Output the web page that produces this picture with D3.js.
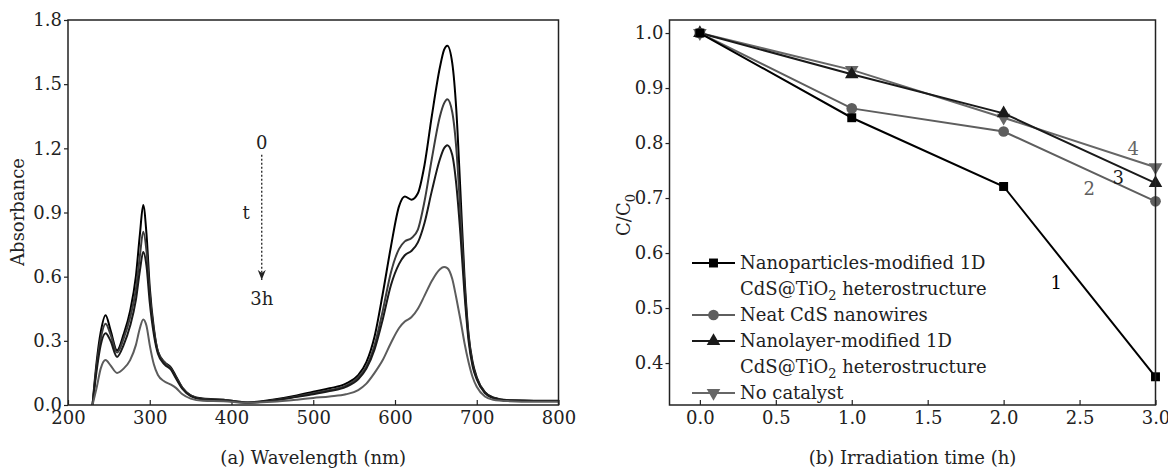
<!DOCTYPE html>
<html>
<head>
<meta charset="utf-8">
<script src="https://cdn.jsdelivr.net/npm/d3@7"></script>
<style>
  body { margin: 0; background: #fff; }
  svg, svg text { font-family: "DejaVu Serif", "Liberation Serif", serif; }
  .tick text { font-size: 18px; fill: #222; }
</style>
</head>
<body>
<div id="chart"></div>
<script>
// ---- panel (a): absorption spectra ----
var wavelength = [230, 235, 240, 246, 252, 260, 268, 276, 283, 288, 292, 296, 300, 305, 310, 318, 326, 332, 340, 350,
    365, 390, 420, 450, 480, 500, 520, 540, 555, 565, 575, 585, 595, 605, 612, 620, 628, 636, 645, 655,
    660, 664, 670, 675, 680, 685, 690, 695, 700, 710, 720, 740, 770, 800];

var abs0h = [0, 0.2, 0.34, 0.42, 0.35, 0.255, 0.33, 0.44, 0.6, 0.8, 0.935, 0.8, 0.55, 0.36, 0.25, 0.2, 0.175, 0.135, 0.08, 0.045,
    0.03, 0.025, 0.012, 0.025, 0.045, 0.062, 0.078, 0.1, 0.14, 0.2, 0.32, 0.52, 0.74, 0.93, 0.975, 0.96, 0.99, 1.12, 1.35, 1.58,
    1.66, 1.68, 1.6, 1.38, 1.0, 0.6, 0.33, 0.2, 0.13, 0.06, 0.035, 0.022, 0.02, 0.02];
var abs1h = [0, 0.18, 0.31, 0.38, 0.33, 0.245, 0.31, 0.41, 0.54, 0.7, 0.81, 0.72, 0.52, 0.35, 0.25, 0.2, 0.17, 0.13, 0.08, 0.045,
    0.028, 0.024, 0.012, 0.022, 0.04, 0.055, 0.07, 0.09, 0.13, 0.18, 0.28, 0.44, 0.62, 0.73, 0.765, 0.78, 0.82, 0.95, 1.15, 1.35,
    1.41, 1.43, 1.37, 1.2, 0.9, 0.56, 0.32, 0.19, 0.125, 0.058, 0.034, 0.021, 0.019, 0.019];
var abs2h = [0, 0.16, 0.28, 0.335, 0.3, 0.225, 0.28, 0.37, 0.49, 0.63, 0.715, 0.65, 0.48, 0.33, 0.24, 0.19, 0.165, 0.125, 0.075, 0.042,
    0.026, 0.022, 0.011, 0.02, 0.038, 0.05, 0.065, 0.085, 0.12, 0.17, 0.26, 0.4, 0.56, 0.66, 0.7, 0.72, 0.76, 0.85, 1.0, 1.15,
    1.2, 1.215, 1.17, 1.03, 0.8, 0.52, 0.3, 0.18, 0.12, 0.056, 0.033, 0.021, 0.019, 0.019];
var abs3h = [0, 0.08, 0.17, 0.21, 0.185, 0.15, 0.17, 0.21, 0.28, 0.36, 0.4, 0.37, 0.28, 0.19, 0.14, 0.11, 0.095, 0.08, 0.05, 0.03,
    0.02, 0.018, 0.01, 0.015, 0.025, 0.033, 0.04, 0.05, 0.07, 0.1, 0.15, 0.21, 0.29, 0.36, 0.39, 0.41, 0.45, 0.51, 0.58, 0.635,
    0.645, 0.64, 0.59, 0.5, 0.4, 0.29, 0.2, 0.13, 0.085, 0.04, 0.025, 0.018, 0.015, 0.015];
var spectraColors = ["#000000", "#3c3c3c", "#1a1a1a", "#5c5c5c"];
var absTicks = [0, 0.3, 0.6, 0.9, 1.2, 1.5, 1.8];
var wlTicks = [200, 300, 400, 500, 600, 700, 800];

// ---- panel (b): C/C0 vs irradiation time ----
var timeH = [0, 1, 2, 3];
var ratioNanoparticles = [1.0, 0.846, 0.721, 0.375];
var ratioNeatCdS = [1.0, 0.863, 0.821, 0.694];
var ratioNanolayer = [1.0, 0.925, 0.854, 0.727];
var ratioNoCatalyst = [1.0, 0.933, 0.846, 0.756];
var seriesNames = [["Nanoparticles-modified 1D", "CdS@TiO2 heterostructure"], ["Neat CdS nanowires"],
    ["Nanolayer-modified 1D", "CdS@TiO2 heterostructure"], ["No catalyst"]];
var seriesColors = ["#000000", "#5e5e5e", "#1a1a1a", "#666666"];
var seriesSymbols = [d3.symbolSquare, d3.symbolCircle, d3.symbolTriangle, d3.symbolTriangle];
var timeTicks = [0, 0.5, 1, 1.5, 2, 2.5, 3];
var ratioTicks = [0.4, 0.5, 0.6, 0.7, 0.8, 0.9, 1.0];
var curveLabels = ["1", "2", "3", "4"];
var curveLabelPos = [[2.347, 0.546], [2.564, 0.718], [2.755, 0.738], [2.853, 0.79]];

var width = 1168, height = 470, fs = "18px";
var svg = d3.select("#chart").append("svg").attr("width", width).attr("height", height);

function textWithSub(sel, str) {
    // "TiO2" / trailing "C0" get a subscript digit
    var parts = str.split(/(TiO2|C0$)/);
    var shiftBack = 0;
    parts.forEach(function (p) {
        if (!p.length) return;
        if (p === "TiO2" || p === "C0") {
            sel.append("tspan").attr("dy", shiftBack ? -shiftBack : null).text(p.slice(0, -1));
            sel.append("tspan").attr("font-size", "13px").attr("dy", 5).text(p.slice(-1));
            shiftBack = 5;
        } else {
            sel.append("tspan").attr("dy", shiftBack ? -shiftBack : null).text(p);
            shiftBack = 0;
        }
    });
}

function drawFrame(g, x, y) {
    g.append("rect")
        .attr("x", x.range()[0]).attr("y", y.range()[1])
        .attr("width", x.range()[1] - x.range()[0])
        .attr("height", y.range()[0] - y.range()[1])
        .attr("fill", "none").attr("stroke", "#222").attr("stroke-width", 1.5);
}

function styleAxis(a) {
    a.attr("font-family", null).attr("font-size", null);
    a.select(".domain").remove();
    a.selectAll(".tick line").attr("stroke", "#222").attr("stroke-width", 1.2);
}

// ===== panel (a) =====
var xa = d3.scaleLinear().domain([200, 800]).range([68, 558.5]);
var ya = d3.scaleLinear().domain([0, 1.8]).range([405, 20]);
var ga = svg.append("g");

ga.append("g").attr("transform", "translate(0,405)")
    .call(d3.axisBottom(xa).tickValues(wlTicks).tickSizeInner(-5).tickSizeOuter(0).tickPadding(6).tickFormat(d3.format("d")))
    .call(styleAxis);
ga.append("g").attr("transform", "translate(68,0)")
    .call(d3.axisLeft(ya).tickValues(absTicks).tickSize(4).tickPadding(2).tickFormat(d3.format(".1f")))
    .call(styleAxis);

svg.append("clipPath").attr("id", "clipA").append("rect")
    .attr("x", 68).attr("y", 20).attr("width", 490.5).attr("height", 385);

var lineA = d3.line().curve(d3.curveMonotoneX)
    .x(function (d) { return xa(d[0]); })
    .y(function (d) { return ya(d[1]); });
[abs0h, abs1h, abs2h, abs3h].forEach(function (arr, i) {
    ga.append("path")
        .datum(wavelength.map(function (w, j) { return [w, arr[j]]; }))
        .attr("clip-path", "url(#clipA)")
        .attr("fill", "none").attr("stroke", spectraColors[i]).attr("stroke-width", 2)
        .attr("d", lineA);
});
drawFrame(ga, xa, ya);

// time arrow annotation
var defs = svg.append("defs");
defs.append("marker").attr("id", "arrowHead").attr("viewBox", "0 0 10 10")
    .attr("refX", 10).attr("refY", 5).attr("markerWidth", 10).attr("markerHeight", 10)
    .attr("markerUnits", "userSpaceOnUse").attr("orient", "auto")
    .append("path").attr("d", "M0,1 L10,5 L0,9 L3,5 Z").attr("fill", "#222");
ga.append("line")
    .attr("x1", xa(437)).attr("x2", xa(437))
    .attr("y1", ya(1.17)).attr("y2", ya(0.585))
    .attr("stroke", "#222").attr("stroke-width", 1.3).attr("stroke-dasharray", "2,2")
    .attr("marker-end", "url(#arrowHead)");
[["0", 437, 1.225], ["t", 418, 0.9], ["3h", 437, 0.5]].forEach(function (a) {
    ga.append("text").attr("x", xa(a[1])).attr("y", ya(a[2]))
        .attr("text-anchor", "middle").attr("dominant-baseline", "central")
        .attr("font-size", fs).attr("fill", "#222").text(a[0]);
});

ga.append("text").attr("x", (68 + 558.5) / 2).attr("y", 464)
    .attr("text-anchor", "middle").attr("font-size", fs).attr("fill", "#222")
    .text("(a) Wavelength (nm)");
ga.append("text").attr("transform", "translate(24,212) rotate(-90)")
    .attr("text-anchor", "middle").attr("font-size", fs).attr("fill", "#222")
    .text("Absorbance");

// ===== panel (b) =====
var xb = d3.scaleLinear().domain([-0.2, 3.0]).range([669.5, 1155.5]);
var yb = d3.scaleLinear().domain([0.3237, 1.0237]).range([405, 20]);
var gb = svg.append("g");

gb.append("g").attr("transform", "translate(0,405)")
    .call(d3.axisBottom(xb).tickValues(timeTicks).tickSizeInner(-5).tickSizeOuter(0).tickPadding(6).tickFormat(d3.format(".1f")))
    .call(styleAxis);
gb.append("g").attr("transform", "translate(669.5,0)")
    .call(d3.axisLeft(yb).tickValues(ratioTicks).tickSize(4).tickPadding(2).tickFormat(d3.format(".1f")))
    .call(styleAxis);

var seriesData = [ratioNanoparticles, ratioNeatCdS, ratioNanolayer, ratioNoCatalyst];
var lineB = d3.line().x(function (d) { return xb(d[0]); }).y(function (d) { return yb(d[1]); });

function addMarker(g, i, cx, cy) {
    var rot = (i === 3) ? 180 : 0;
    g.append("path").attr("d", d3.symbol().type(seriesSymbols[i]).size(i === 1 ? 90 : 80)())
        .attr("transform", "translate(" + cx + "," + cy + ") rotate(" + rot + ")")
        .attr("fill", seriesColors[i]);
}

// draw in reverse so series 1 sits on top at t=0
[3, 2, 1, 0].forEach(function (i) {
    var pts = timeH.map(function (t, j) { return [t, seriesData[i][j]]; });
    gb.append("path").datum(pts)
        .attr("fill", "none").attr("stroke", seriesColors[i]).attr("stroke-width", 2)
        .attr("d", lineB);
    pts.forEach(function (p) { addMarker(gb, i, xb(p[0]), yb(p[1])); });
});

curveLabels.forEach(function (lab, i) {
    gb.append("text").attr("x", xb(curveLabelPos[i][0])).attr("y", yb(curveLabelPos[i][1]))
        .attr("text-anchor", "middle").attr("dominant-baseline", "central")
        .attr("font-size", fs).attr("fill", seriesColors[i]).text(lab);
});

// legend
var legX = 692, legLine = 43, lineStep = 26, legY = 263;
var row = 0;
seriesNames.forEach(function (lines, i) {
    var cy = legY + row * lineStep;
    gb.append("line").attr("x1", legX).attr("x2", legX + legLine).attr("y1", cy).attr("y2", cy)
        .attr("stroke", seriesColors[i]).attr("stroke-width", 2);
    addMarker(gb, i, legX + legLine / 2, cy);
    lines.forEach(function (txt, k) {
        var t = gb.append("text").attr("x", legX + legLine + 5).attr("y", legY + (row + k) * lineStep + 6)
            .attr("font-size", fs).attr("fill", "#222");
        textWithSub(t, txt);
    });
    row += lines.length;
});

drawFrame(gb, xb, yb);

gb.append("text").attr("x", (669.5 + 1155.5) / 2).attr("y", 464)
    .attr("text-anchor", "middle").attr("font-size", fs).attr("fill", "#222")
    .text("(b) Irradiation time (h)");
var yl = gb.append("text").attr("transform", "translate(630,215) rotate(-90)")
    .attr("text-anchor", "middle").attr("font-size", fs).attr("fill", "#222");
textWithSub(yl, "C/C0");
</script>
</body>
</html>
